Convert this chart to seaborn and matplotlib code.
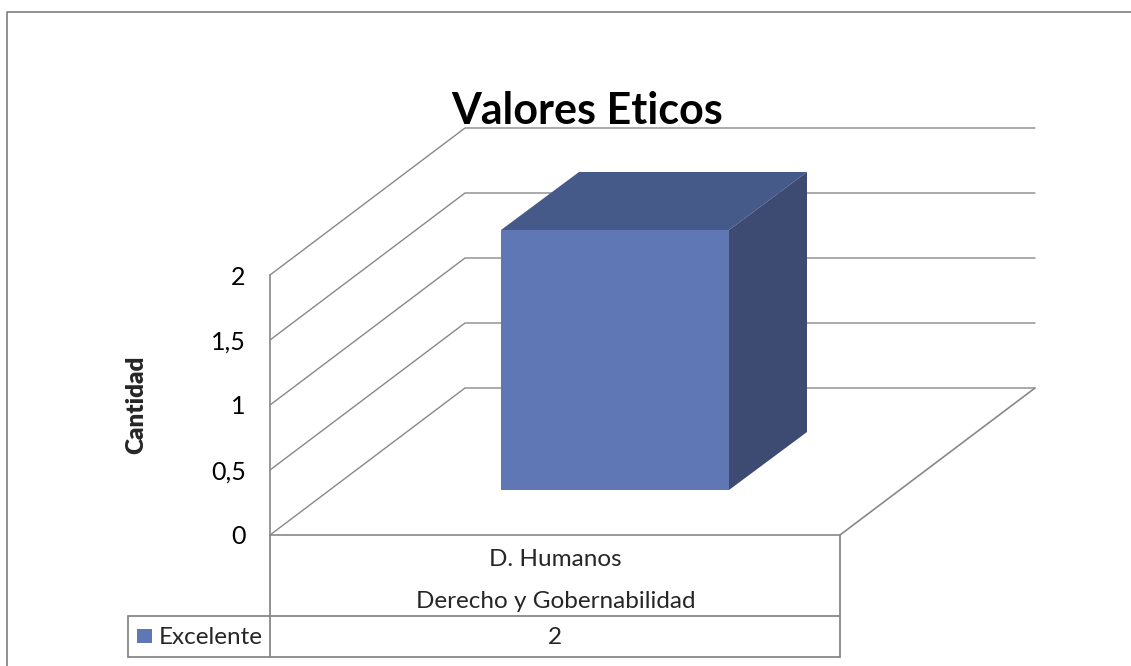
import numpy as np
import seaborn as sns
import matplotlib.pyplot as plt
from matplotlib import transforms
from matplotlib.patches import Polygon

# datos del grafico
categories = ["D. Humanos"]
group_label = "Derecho y Gobernabilidad"
series_name = "Excelente"
values = [2]
y_ticks = [0, 0.5, 1, 1.5, 2]
y_tick_labels = ["0", "0,5", "1", "1,5", "2"]

sns.set_theme(style="white")
plt.rcParams["font.family"] = ["Lato", "DejaVu Sans"]

front_col = "#5F77B5"
top_col = "#465A8A"
side_col = "#3D4B73"
line_col = "#888888"

W, H = 1131, 666
fig = plt.figure(figsize=(W / 100, H / 100), dpi=100)

# capa de fondo en pixeles (borde, tabla)
deco = fig.add_axes([0, 0, 1, 1], zorder=0)
deco.set_xlim(0, W)
deco.set_ylim(H, 0)
deco.axis("off")

# plano frontal del grafico 3d
ax = fig.add_axes([270 / W, 131 / H, 570 / W, 260 / H], zorder=1)
ax.patch.set_alpha(0)
sns.barplot(x=categories, y=values, width=0.4, color=front_col, saturation=1,
            linewidth=0, ax=ax, zorder=3)
ax.set_xlim(-0.5, 0.5)
ax.set_ylim(0, 2)
ax.set_yticks(y_ticks)
ax.set_yticklabels(y_tick_labels, fontsize=18, color="black")
ax.set_xticks([])
ax.set_xlabel("")
ax.set_ylabel("Cantidad", fontsize=17.5, fontweight="heavy", labelpad=46)
ax.tick_params(axis="y", length=0, pad=17.5)
for s in ["top", "right", "bottom"]:
    ax.spines[s].set_visible(False)
ax.spines["left"].set_color(line_col)
ax.spines["left"].set_linewidth(1.2)

ident = transforms.IdentityTransform()
fig.canvas.draw()

back = np.array([195, 147])      # profundidad de la pared del fondo
bar_front = np.array([60, 45])
bar_back = np.array([138, 103])


def disp(x, y):
    return ax.transData.transform((x, y))


# lineas de division: pared izquierda + pared del fondo
for v in y_ticks:
    p0 = disp(-0.5, v)
    p1 = p0 + back
    p2 = disp(0.5, v) + back
    fig.add_artist(plt.Line2D([p0[0], p1[0], p2[0]], [p0[1], p1[1], p2[1]],
                              transform=ident, color=line_col, lw=1.0, zorder=1))

# piso: borde frontal y lateral derecho
f0 = disp(-0.5, 0)
f1 = disp(0.5, 0)
fig.add_artist(plt.Line2D([f0[0], f1[0], f1[0] + back[0]], [f0[1], f1[1], f1[1] + back[1]],
                          transform=ident, color=line_col, lw=1.2, zorder=1))

# barra 3d: cara frontal desplazada, mas tapa y lateral
bar = ax.patches[0]
bar.set_transform(transforms.offset_copy(ax.transData, fig=fig, x=bar_front[0], y=bar_front[1], units="dots"))
bar.set_clip_on(False)
x0, x1 = bar.get_x(), bar.get_x() + bar.get_width()
h = bar.get_height()
tl, tr, br = disp(x0, h), disp(x1, h), disp(x1, 0)
top = [tl + bar_front, tr + bar_front, tr + bar_back, tl + bar_back]
side = [tr + bar_front, tr + bar_back, br + bar_back, br + bar_front]
fig.add_artist(Polygon(top, closed=True, transform=ident, facecolor=top_col, edgecolor="none", zorder=4))
fig.add_artist(Polygon(side, closed=True, transform=ident, facecolor=side_col, edgecolor="none", zorder=4))

# titulo
fig.text(587 / W, 1 - 111 / H, "Valores Eticos", ha="center", va="center",
         fontsize=31, fontweight="bold", color="black")

# tabla de datos
lw = 1.3
fs = 17.5
deco.plot([7, 7, W], [H, 12, 12], color=line_col, lw=1.3)
deco.plot([270, 270], [535, 657], color=line_col, lw=lw)
deco.plot([840, 840], [535, 657], color=line_col, lw=lw)
deco.plot([128, 840], [616, 616], color=line_col, lw=lw)
deco.plot([128, 840], [657, 657], color=line_col, lw=lw)
deco.plot([128, 128], [616, 657], color=line_col, lw=lw)
deco.text(555, 559, categories[0], ha="center", va="center", fontsize=fs)
deco.text(556, 602, group_label, ha="center", va="center", fontsize=fs)
deco.text(555, 637, str(values[0]), ha="center", va="center", fontsize=fs)
deco.add_patch(plt.Rectangle((137, 629), 15, 14, facecolor=front_col, edgecolor="none"))
deco.text(159, 637, series_name, ha="left", va="center", fontsize=fs)

fig.savefig("out.png", dpi=100)
